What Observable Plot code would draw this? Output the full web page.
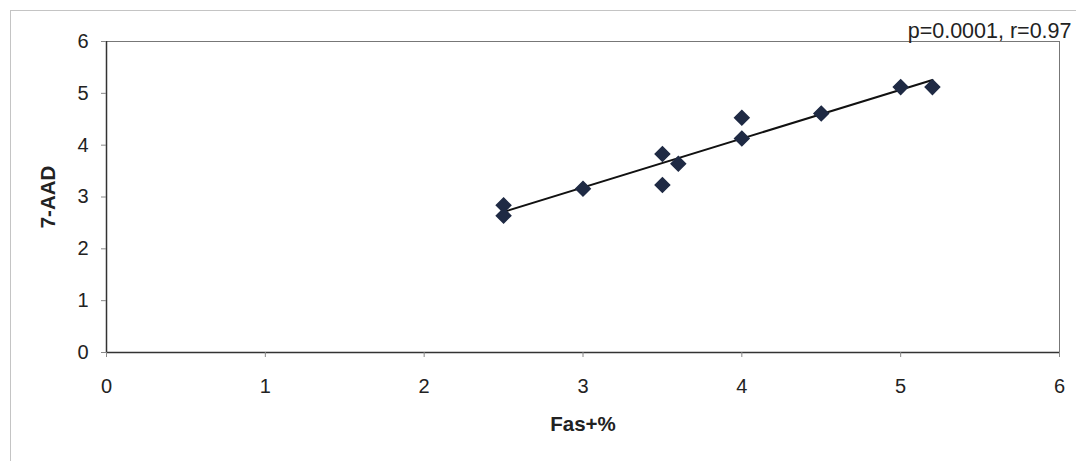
<!DOCTYPE html>
<html><head><meta charset="utf-8">
<script src="https://cdn.jsdelivr.net/npm/d3@7"></script>
<script src="https://cdn.jsdelivr.net/npm/@observablehq/plot@0.6"></script>
<style>
body{margin:0;background:#fff;}
#wrap{position:relative;width:1076px;height:461px;font-family:Arial,"Liberation Sans",sans-serif;}
#border{position:absolute;left:10px;top:10px;right:0;bottom:0;border-top:1px solid #c4c4c4;border-left:1px solid #c4c4c4;pointer-events:none;}
#wrap svg{position:absolute;left:0;top:0;}
[aria-label="x-axis label"] text,[aria-label="y-axis label"] text{font-weight:bold;font-size:20.5px;}
</style></head><body><div id="wrap"><div id="border"></div></div>
<script>
const fasPct = [2.5, 2.5, 3.0, 3.5, 3.5, 3.6, 4.0, 4.0, 4.5, 5.0, 5.2];
const aad    = [2.84, 2.64, 3.16, 3.83, 3.23, 3.64, 4.53, 4.13, 4.61, 5.12, 5.12];
const xTicks = [0, 1, 2, 3, 4, 5, 6];
const yTicks = [0, 1, 2, 3, 4, 5, 6];
const xLabel = "Fas+%";
const yLabel = "7-AAD";
const annotation = "p=0.0001, r=0.97";

const data = fasPct.map((x, i) => ({x, y: aad[i]}));

const chart = Plot.plot({
  width: 1076,
  height: 461,
  marginLeft: 106,
  marginRight: 17,
  marginTop: 41,
  marginBottom: 109,
  style: {fontFamily: "Arial, 'Liberation Sans', sans-serif", fontSize: "20px", color: "#222", background: "transparent", overflow: "visible"},
  x: {domain: [0, 6]},
  y: {domain: [0, 6]},
  marks: [
    Plot.frame({stroke: "#777", strokeWidth: 1}),
    Plot.ruleY([0], {stroke: "#333", strokeWidth: 1.5}),
    Plot.ruleX([0], {stroke: "#333", strokeWidth: 1.5}),
    Plot.axisX({ticks: xTicks, tickSize: 5, tickPadding: 21, tickFormat: d => d, stroke: "#888",
      label: xLabel, labelAnchor: "center", labelArrow: "none", labelOffset: 78, fontSize: 20}),
    Plot.axisY({ticks: yTicks, tickSize: 5, tickPadding: 13, tickFormat: d => d, stroke: "#888",
      label: yLabel, labelAnchor: "center", labelArrow: "none", labelOffset: 66, fontSize: 20}),
    Plot.linearRegressionY(data, {x: "x", y: "y", ci: 0, stroke: "#111", strokeWidth: 2}),
    Plot.dot(data, {x: "x", y: "y", symbol: "diamond2", r: 6.5, fill: "#1f2a44", stroke: "#1f2a44"}),
    Plot.text([annotation], {text: d => d, frameAnchor: "top-right", lineAnchor: "middle", dx: 12, dy: -10, fontSize: 21.5, fill: "#222"})
  ]
});
document.getElementById("wrap").appendChild(chart);
</script>
</body></html>
